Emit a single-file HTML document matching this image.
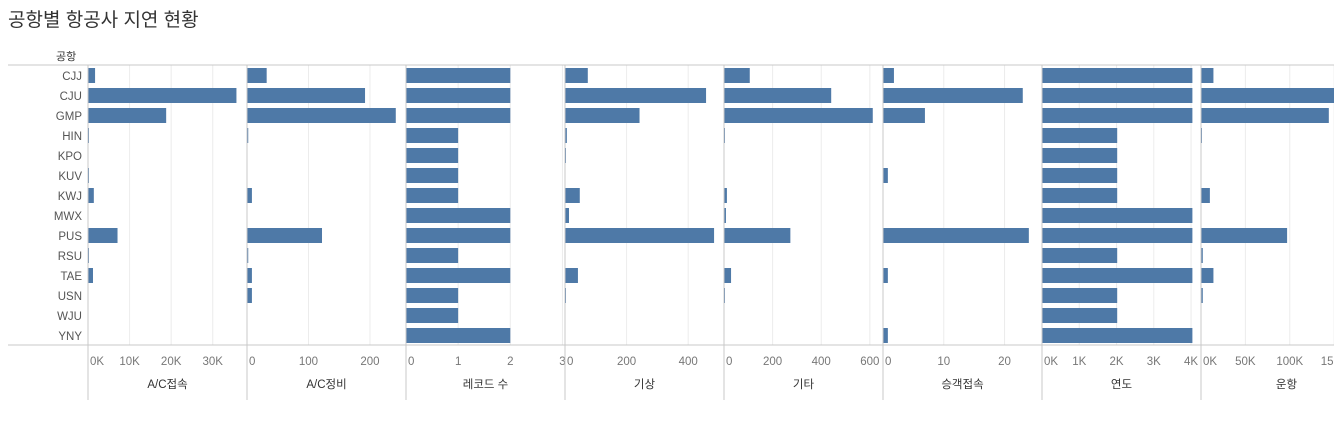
<!DOCTYPE html>
<html><head><meta charset="utf-8"><style>
body{margin:0;background:#fff;width:1334px;height:433px;overflow:hidden;font-family:"Liberation Sans","Noto Sans CJK KR",sans-serif}
svg text{font-family:"Liberation Sans","Noto Sans CJK KR",sans-serif}
</style></head><body>
<svg id="chart" width="1334" height="433" xmlns="http://www.w3.org/2000/svg">
<text x="8" y="26" font-size="19" fill="#333">공항별 항공사 지연 현황</text>
<text x="56" y="60" font-size="11" fill="#333">공항</text>
<g id="g"></g>
</svg>
<script>
const airports=["CJJ","CJU","GMP","HIN","KPO","KUV","KWJ","MWX","PUS","RSU","TAE","USN","WJU","YNY"];
const acConn=[1700,35700,18800,50,0,200,1400,0,7100,200,1200,0,0,0];
const acMaint=[32,192,242,2,0,0,8,0,122,2,8,8,0,0];
const records=[2,2,2,1,1,1,1,2,2,1,2,1,1,2];
const weather=[74,458,242,6,3,0,48,13,484,0,42,3,0,0];
const other=[106,441,612,4,0,0,12,8,273,0,29,4,0,0];
const paxConn=[1.8,23,6.9,0,0,0.8,0,0,24,0,0.8,0,0,0.8];
const year=[4036,4036,4036,2018,2018,2018,2018,4036,4036,2018,4036,2018,2018,4036];
const flights=[14000,160000,144000,1000,0,0,10000,0,97000,2000,14000,2000,0,0];
const panelTitles=["A/C접속","A/C정비","레코드 수","기상","기타","승객접속","연도","운항"];
const ticks=[[0,10000,20000,30000],[0,100,200],[0,1,2,3],[0,200,400],[0,200,400,600],[0,10,20],[0,1000,2000,3000,4000],[0,50000,100000,150000]];
const tickLabels=[["0K","10K","20K","30K"],["0","100","200"],["0","1","2","3"],["0","200","400"],["0","200","400","600"],["0","10","20"],["0K","1K","2K","3K","4K"],["0K","50K","100K","150K"]];
const domainMax=[38000,257,3.03,513,650,26,4240,178000];
const series=[acConn,acMaint,records,weather,other,paxConn,year,flights];
const NS="http://www.w3.org/2000/svg";
const g=document.getElementById('g');
function mk(t,a,p){const e=document.createElementNS(NS,t);for(const k in a)e.setAttribute(k,a[k]);(p||g).appendChild(e);return e;}
const X0=88,PW=159,TOP=65,BOT=345,RH=20;
function rowY(i){return TOP+3+i*RH;}
airports.forEach((a,i)=>{const t=mk('text',{x:82,y:rowY(i)+12,'font-size':11.5,fill:'#555','text-anchor':'end'});t.textContent=a;

});
series.forEach((vals,p)=>{
 const px=X0+p*PW;
 const sx=v=>px+v/domainMax[p]*(PW-1);
 ticks[p].forEach((tv,k)=>{const x=sx(tv);
  if(k>0){const l=mk('line',{x1:x,x2:x,y1:TOP,y2:BOT,stroke:'#ececec'});
  
  }
  const anchor=k==0?'start':'middle';
  const t=mk('text',{x:k==0?x+2:x,y:365,'font-size':11.5,fill:'#777','text-anchor':anchor});t.textContent=tickLabels[p][k];
  
  });
 vals.forEach((v,i)=>{if(v<=0)return;const w=Math.max(1,sx(v)-px);
  const r=mk('rect',{x:px,y:rowY(i),width:Math.min(w,1334-px),height:15,fill:'#4e79a7'});
  
  });
 const t=mk('text',{x:px+PW/2+(p==7?6:0),y:388,'font-size':11.5,fill:'#333','text-anchor':'middle'});t.textContent=panelTitles[p];
 
 
 const d=mk('line',{x1:px,x2:px,y1:TOP,y2:400,stroke:'#c8c8c8'});
 
 
});
const h1=mk('line',{x1:8,x2:1334,y1:TOP,y2:TOP,stroke:'#c8c8c8'});


const h2=mk('line',{x1:8,x2:1334,y1:BOT,y2:BOT,stroke:'#c8c8c8'});


</script>
</body></html>
